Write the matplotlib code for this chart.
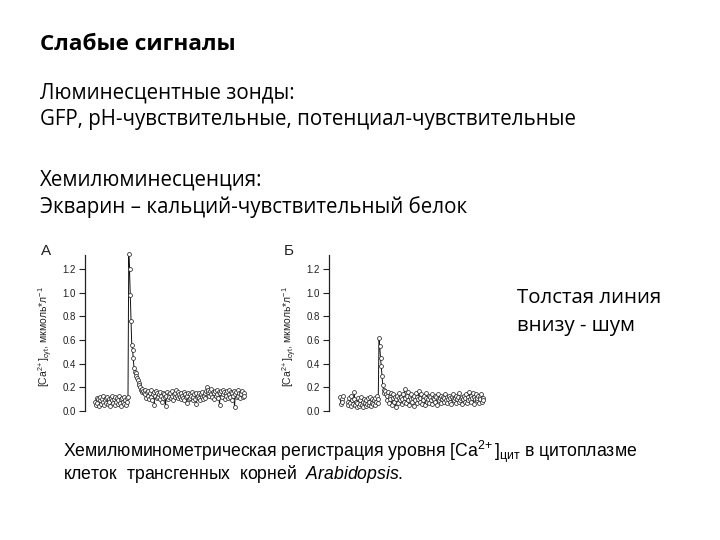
import numpy as np
import matplotlib
matplotlib.use("Agg")
import matplotlib.pyplot as plt

plt.rcParams['mathtext.fontset'] = 'custom'
plt.rcParams['mathtext.rm'] = 'Liberation Sans'
plt.rcParams['mathtext.it'] = 'Liberation Sans:italic'
plt.rcParams['mathtext.bf'] = 'Liberation Sans:bold'

# ---------------- data ----------------
yticks = [0.0, 0.2, 0.4, 0.6, 0.8, 1.0, 1.2]
ytick_labels = ["0.0", "0.2", "0.4", "0.6", "0.8", "1.0", "1.2"]

trace_a_pre = [0.08, 0.05, 0.11, 0.07, 0.10, 0.04, 0.09, 0.12, 0.06, 0.10, 0.08, 0.13, 0.05, 0.09, 0.11,
               0.07, 0.12, 0.06, 0.10, 0.08, 0.04, 0.11, 0.09, 0.13, 0.07, 0.10, 0.05, 0.12, 0.08, 0.11,
               0.06, 0.09, 0.13, 0.07, 0.10, 0.04, 0.11, 0.08, 0.12, 0.06, 0.09, 0.05, 0.11, 0.08, 0.12]
trace_a_spike = [1.33, 1.20, 0.98, 0.76, 0.56, 0.52, 0.45, 0.36, 0.33, 0.32, 0.30, 0.28, 0.26, 0.24,
                 0.22, 0.20, 0.18, 0.19, 0.16, 0.17, 0.15]
trace_a_post = [0.14, 0.18, 0.11, 0.16, 0.13, 0.17, 0.10, 0.15, 0.12, 0.18, 0.09, 0.14, 0.16, 0.05, 0.13, 0.17, 0.11, 0.15, 0.12, 0.14,
                0.10, 0.16, 0.13, 0.08, 0.15, 0.11, 0.14, 0.12, 0.04, 0.13, 0.16, 0.10, 0.14, 0.12, 0.15, 0.11, 0.17, 0.13, 0.09, 0.14,
                0.12, 0.15, 0.18, 0.13, 0.16, 0.11, 0.14, 0.12, 0.10, 0.15, 0.13, 0.11, 0.16, 0.09, 0.14, 0.12, 0.07, 0.13, 0.15, 0.10,
                0.14, 0.11, 0.13, 0.16, 0.09, 0.12, 0.14, 0.10, 0.15, 0.06, 0.12, 0.13, 0.11, 0.15, 0.09, 0.14, 0.12, 0.16, 0.10, 0.13,
                0.15, 0.11, 0.17, 0.20, 0.16, 0.18, 0.13, 0.17, 0.14, 0.19, 0.12, 0.16, 0.15, 0.10, 0.17, 0.13, 0.18, 0.14, 0.11, 0.16,
                0.05, 0.15, 0.17, 0.12, 0.18, 0.14, 0.16, 0.10, 0.15, 0.13, 0.17, 0.11, 0.18, 0.14, 0.12, 0.16, 0.09, 0.15, 0.13, 0.17,
                0.03, 0.14, 0.16, 0.12, 0.18, 0.13, 0.15, 0.11, 0.16, 0.14, 0.17, 0.12, 0.15, 0.13]

trace_b_start = [0.12, 0.06, 0.10, 0.08, 0.13]
trace_b_gap = [np.nan, np.nan, np.nan, np.nan, np.nan]
trace_b_pre = [0.08, 0.05, 0.11, 0.07, 0.13, 0.04, 0.09, 0.06, 0.10, 0.16, 0.05, 0.08, 0.03, 0.07, 0.11,
               0.04, 0.09, 0.06, 0.12, 0.05, 0.08, 0.03, 0.10, 0.07, 0.04, 0.09, 0.06, 0.11, 0.05, 0.08,
               0.12, 0.04, 0.07, 0.10, 0.06, 0.09, 0.05, 0.11, 0.08, 0.13, 0.07, 0.10]
trace_b_spike = [0.62, 0.55, 0.45, 0.38, 0.30, 0.22, 0.18, 0.15, 0.17, 0.14]
trace_b_post = [0.13, 0.09, 0.16, 0.07, 0.12, 0.10, 0.15, 0.05, 0.11, 0.14, 0.08, 0.12, 0.03, 0.10, 0.13, 0.07, 0.11, 0.15, 0.09, 0.12,
                0.06, 0.10, 0.14, 0.08, 0.19, 0.11, 0.07, 0.13, 0.09, 0.16, 0.05, 0.12, 0.10, 0.14, 0.08, 0.11, 0.04, 0.13, 0.09, 0.15,
                0.07, 0.12, 0.10, 0.17, 0.08, 0.11, 0.14, 0.06, 0.12, 0.09, 0.13, 0.05, 0.11, 0.15, 0.08, 0.10, 0.13, 0.07, 0.12, 0.09,
                0.14, 0.06, 0.11, 0.10, 0.13, 0.08, 0.12, 0.05, 0.10, 0.14, 0.09, 0.11, 0.07, 0.13, 0.10, 0.12, 0.08, 0.11, 0.14, 0.09,
                0.12, 0.07, 0.10, 0.13, 0.08, 0.11, 0.06, 0.12, 0.10, 0.14, 0.09, 0.11, 0.07, 0.13, 0.10, 0.12, 0.08, 0.15, 0.09, 0.11,
                0.06, 0.12, 0.10, 0.13, 0.08, 0.11, 0.14, 0.07, 0.12, 0.09, 0.16, 0.10, 0.13, 0.08, 0.11, 0.15, 0.06, 0.12, 0.10, 0.14,
                0.09, 0.11, 0.13, 0.07, 0.12, 0.10, 0.14, 0.08, 0.11, 0.09]

trace_a = np.array(trace_a_pre + trace_a_spike + trace_a_post)
trace_b = np.array(trace_b_start + trace_b_gap + trace_b_pre + trace_b_spike + trace_b_post)

title = "Слабые сигналы"
body_lines = ["Люминесцентные зонды:",
              "GFP, рН-чувствительные, потенциал-чувствительные",
              "Хемилюминесценция:",
              "Экварин – кальций-чувствительный белок"]
note_lines = ["Толстая линия", "внизу - шум"]
caption_1 = "Хемилюминометрическая регистрация уровня [Ca$^{2\\!+}$]$_{\\mathrm{цит}}$ в цитоплазме"
caption_2 = "клеток  трансгенных  корней  $\\mathit{Arabidopsis}$."
ylabel = "[Ca$^{2\\!+}$]$_{\\mathrm{cyt}}$, мкмоль*л$^{-1}$"
panel_letters = ["А", "Б"]

# ---------------- layout ----------------
W, H = 720, 540
fig = plt.figure(figsize=(7.2, 5.4), dpi=100)
fig.patch.set_facecolor("white")

def fx(px):
    return px / W

def fy(py):
    return 1 - py / H

# slide text
fig.text(fx(40), fy(45), title, family="Open Sans", fontweight="bold", fontsize=16.2,
         va="center", ha="left", color="black")
for txt, py in zip(body_lines, [93, 120, 180, 207]):
    fig.text(fx(40), fy(py), txt, family="Open Sans", fontsize=14.8, va="center", ha="left", color="black")
for txt, py in zip(note_lines, [298, 326]):
    fig.text(fx(517), fy(py), txt, family="Open Sans", fontsize=14.7, va="center", ha="left", color="black")

# caption as one two-line text block
fig.text(fx(63), fy(462), caption_1 + "\n" + caption_2, family="Liberation Sans", fontsize=12.7,
         va="center", ha="left", linespacing=0.86)

# panels: (spine x px, right px, data start px, trace, letter x, ylabel x)
panels = [(85, 247, 95, trace_a, 46, 46),
          (329, 490, 340, trace_b, 289, 290)]
top_px, bottom_px = 255, 411
px_per_sample = 0.75
for (sx, rx, dx, tr, lx, ylx), letter in zip(panels, panel_letters):
    ax = fig.add_axes([fx(sx), fy(bottom_px), (rx - sx) / W, (bottom_px - top_px) / H])
    t = np.arange(len(tr))
    ax.plot(t, tr, color="#111111", lw=0.7, marker="o", ms=2.8, mfc="white",
            mec="#2a2a2a", mew=0.55, clip_on=False)
    ax.set_ylim(0, 1.32)
    ax.set_xlim(-(dx - sx) / px_per_sample, (rx - dx) / px_per_sample)
    ax.set_yticks(yticks)
    ax.set_yticklabels(ytick_labels, family="Liberation Sans", fontsize=7, color="#222222")
    ax.tick_params(axis="y", direction="out", length=4, width=0.8, pad=2.5, colors="#222222")
    ax.set_xticks([])
    for s in ["top", "right", "bottom"]:
        ax.spines[s].set_visible(False)
    ax.spines["left"].set_linewidth(0.9)
    ax.spines["left"].set_color("#222222")
    ax.patch.set_alpha(0)
    fig.text(fx(ylx), fy(337), ylabel, rotation=90, family="Liberation Sans", fontsize=7.5,
             va="center", ha="center", color="#222222")
    fig.text(fx(lx), fy(251), letter, family="Liberation Sans", fontsize=11, va="center",
             ha="center", color="#222222")

fig.savefig("out.png", dpi=100, facecolor="white")
